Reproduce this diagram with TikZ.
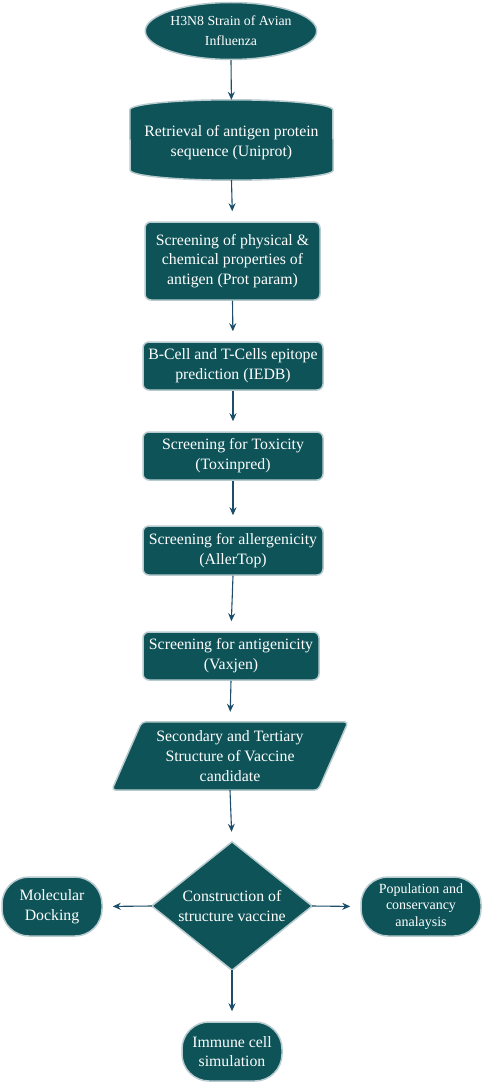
\documentclass[tikz,border=0pt]{standalone}
\usepackage{fontspec}
\setmainfont{Liberation Serif}
\usetikzlibrary{shapes.geometric,arrows.meta}
\definecolor{boxfill}{HTML}{0E5358}
\definecolor{boxline}{HTML}{B7CBCF}
\definecolor{arrowc}{HTML}{1C4E6A}
\tikzset{
  txt/.style={text=white,align=center,font=\fontsize{15.8}{19.8}\selectfont,inner sep=0pt},
  rbox/.style={txt,draw=boxline,fill=boxfill,line width=1.5pt,rounded corners=6pt},
  stadium/.style={txt,draw=boxline,fill=boxfill,line width=1.5pt,rounded corners=27pt,minimum width=100pt,minimum height=59pt},
  shapeline/.style={draw=boxline,fill=boxfill,line width=1.5pt},
  conn/.style={draw=arrowc,line width=1.1pt,shorten >=10pt,arrows={-Stealth[length=8pt,width=7pt]}}
}
\begin{document}
\begin{tikzpicture}[x=1pt,y=-1pt]
\useasboundingbox (0,0) rectangle (482,1086);
% start ellipse
\node[txt,ellipse,draw=boxline,fill=boxfill,line width=1.5pt,minimum width=152pt,minimum height=57pt,font=\fontsize{13.8}{20}\selectfont] (start) at (231,31) {H3N8 Strain of Avian\\Influenza};
% cylinder
\node[txt,minimum width=203pt,minimum height=80pt] (cyl) at (231.5,140) {};
\path[shapeline] ([yshift=-10pt]cyl.north west) arc[start angle=180,end angle=0,x radius=101.5pt,y radius=10pt]
  -- ([yshift=10pt]cyl.south east) arc[start angle=0,end angle=-180,x radius=101.5pt,y radius=10pt] -- cycle;
\node[txt] at ([yshift=-3pt]cyl.center) {Retrieval of antigen protein\\sequence (Uniprot)};
% boxes
\node[rbox,minimum width=175pt,minimum height=78pt] (prop) at (232.5,261) {Screening of physical \&\\chemical properties of\\antigen (Prot param)};
\node[rbox,minimum width=180pt,minimum height=48pt] (epi) at (233,366) {B-Cell and T-Cells epitope\\prediction (IEDB)};
\node[rbox,minimum width=180pt,minimum height=48pt] (tox) at (233,456) {Screening for Toxicity\\(Toxinpred)};
\node[rbox,minimum width=180pt,minimum height=49pt] (alle) at (233,550.5) {Screening for allergenicity\\(AllerTop)};
\node[rbox,minimum width=176pt,minimum height=48pt] (anti) at (231,656) {Screening for antigenicity\\(Vaxjen)};
% parallelogram
\node[txt,minimum width=236pt,minimum height=68pt] (par) at (230,756) {};
\path[shapeline,rounded corners=4pt] ([xshift=30pt]par.north west) -- (par.north east) -- ([xshift=-30pt]par.south east) -- (par.south west) -- cycle;
\node[txt] at (par.center) {Secondary and Tertiary\\Structure of Vaccine\\candidate};
% diamond
\node[txt,minimum width=160pt,minimum height=128pt] (dia) at (232,906) {};
\path[shapeline] (dia.north) -- (dia.east) -- (dia.south) -- (dia.west) -- cycle;
\node[txt] at (dia.center) {Construction of\\structure vaccine};
% terminals
\node[stadium] (mol) at (52,906.5) {Molecular\\Docking};
\node[stadium,minimum width=120pt,font=\fontsize{14}{16.8}\selectfont] (pop) at (421,906.5) {Population and\\conservancy\\analaysis};
\node[stadium] (imm) at (232,1051.5) {Immune cell\\simulation};
% connectors
\draw[conn] (start.south) -- ([yshift=-10pt]cyl.north);
\draw[conn] (cyl.south) -- (prop.north);
\draw[conn] (prop.south) -- (epi.north);
\draw[conn] (epi.south) -- (tox.north);
\draw[conn] (tox.south) -- (alle.north);
\draw[conn] (alle.south) -- (anti.north);
\draw[conn] (anti.south) -- (par.north);
\draw[conn] (par.south) -- (dia.north);
\draw[conn] (dia.west) -- (mol.east);
\draw[conn] (dia.east) -- (pop.west);
\draw[conn] (dia.south) -- (imm.north);
\end{tikzpicture}
\end{document}
